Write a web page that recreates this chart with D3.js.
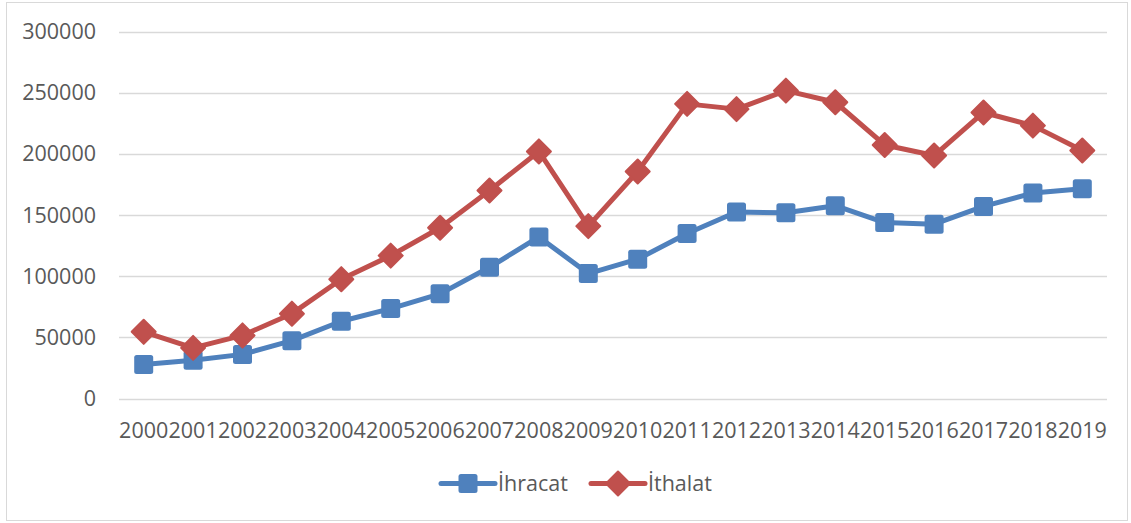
<!DOCTYPE html>
<html>
<head>
<meta charset="utf-8">
<script src="https://cdn.jsdelivr.net/npm/d3@7"></script>
<style>
  body { margin: 0; background: #fff; }
  text { font-family: "Open Sans", "Liberation Sans", sans-serif; fill: #595959; }
</style>
</head>
<body>
<div id="chart"></div>
<script>
var years = ["2000","2001","2002","2003","2004","2005","2006","2007","2008","2009",
             "2010","2011","2012","2013","2014","2015","2016","2017","2018","2019"];
var ihracat = [27775, 31334, 36059, 47253, 63167, 73476, 85535, 107272, 132027, 102143,
               113883, 134907, 152462, 151803, 157610, 143839, 142530, 156993, 167921, 171531];
var ithalat = [54503, 41399, 51554, 69340, 97540, 116774, 139576, 170063, 201964, 140928,
               185544, 240842, 236545, 251661, 242177, 207234, 198618, 233800, 223047, 202705];
var yTicks = [0, 50000, 100000, 150000, 200000, 250000, 300000];

var W = 1131, H = 523;
// note: "top" is a reserved window prop, so plot* names
var plotLeft = 119, plotRight = 1107, plotTop = 31.5, plotBottom = 398.5;
var fontSize = 21.5;

var svg = d3.select("#chart").append("svg")
    .attr("width", W)
    .attr("height", H);

// chart border
svg.append("rect")
    .attr("x", 6.5).attr("y", 2.5)
    .attr("width", 1121).attr("height", 518)
    .attr("fill", "#fff")
    .attr("stroke", "#D9D9D9")
    .attr("stroke-width", 1);

var x = d3.scaleBand().domain(years).range([plotLeft, plotRight]);
var y = d3.scaleLinear().domain([0, 300000]).range([plotBottom, plotTop]);

// gridlines
svg.append("g").selectAll("line")
    .data(yTicks)
    .enter().append("line")
    .attr("x1", plotLeft).attr("x2", plotRight)
    .attr("y1", function(d){ return Math.round(y(d)) + 0.5; })
    .attr("y2", function(d){ return Math.round(y(d)) + 0.5; })
    .attr("stroke", "#D9D9D9")
    .attr("stroke-width", 1.5);

// y labels
svg.append("g").selectAll("text")
    .data(yTicks)
    .enter().append("text")
    .attr("x", 96)
    .attr("y", function(d){ return y(d) + 7.5; })
    .attr("text-anchor", "end")
    .attr("font-size", fontSize)
    .text(function(d){ return d; });

// x labels
svg.append("g").selectAll("text")
    .data(years)
    .enter().append("text")
    .attr("x", function(d){ return x(d) + x.bandwidth() / 2; })
    .attr("y", 438)
    .attr("text-anchor", "middle")
    .attr("font-size", fontSize)
    .text(function(d){ return d; });

var series = [
    {name: "İhracat", values: ihracat, color: "#4F81BD", marker: "square"},
    {name: "İthalat", values: ithalat, color: "#C0504D", marker: "diamond"}
];

var line = d3.line()
    .x(function(d, i){ return x(years[i]) + x.bandwidth() / 2; })
    .y(function(d){ return y(d); });

function drawMarker(g, type, color, cx, cy){
    if(type == "square"){
        g.append("rect")
            .attr("x", cx - 9.5).attr("y", cy - 9.5)
            .attr("width", 19).attr("height", 19)
            .attr("rx", 2.5).attr("ry", 2.5)
            .attr("fill", color);
    }else{
        var r = 12;
        g.append("path")
            .attr("d", "M" + cx + "," + (cy - r) + "L" + (cx + r) + "," + cy + "L" + cx + "," + (cy + r) + "L" + (cx - r) + "," + cy + "Z")
            .attr("fill", color)
            .attr("stroke", color)
            .attr("stroke-width", 2)
            .attr("stroke-linejoin", "round");
    }
}

series.forEach(function(s){
    var g = svg.append("g");
    g.append("path")
        .datum(s.values)
        .attr("d", line)
        .attr("fill", "none")
        .attr("stroke", s.color)
        .attr("stroke-width", 5)
        .attr("stroke-linejoin", "round")
        .attr("stroke-linecap", "round");
    s.values.forEach(function(v, i){
        drawMarker(g, s.marker, s.color, x(years[i]) + x.bandwidth() / 2, y(v));
    });
});

// legend
var legendX = [441, 591];
series.forEach(function(s, i){
    var g = svg.append("g");
    var lx = legendX[i], ly = 483.5;
    g.append("line")
        .attr("x1", lx).attr("x2", lx + 54)
        .attr("y1", ly).attr("y2", ly)
        .attr("stroke", s.color)
        .attr("stroke-width", 5)
        .attr("stroke-linecap", "round");
    drawMarker(g, s.marker, s.color, lx + 27, ly);
    g.append("text")
        .attr("x", lx + 57)
        .attr("y", 491)
        .attr("font-size", fontSize)
        .text(s.name);
});
</script>
</body>
</html>
